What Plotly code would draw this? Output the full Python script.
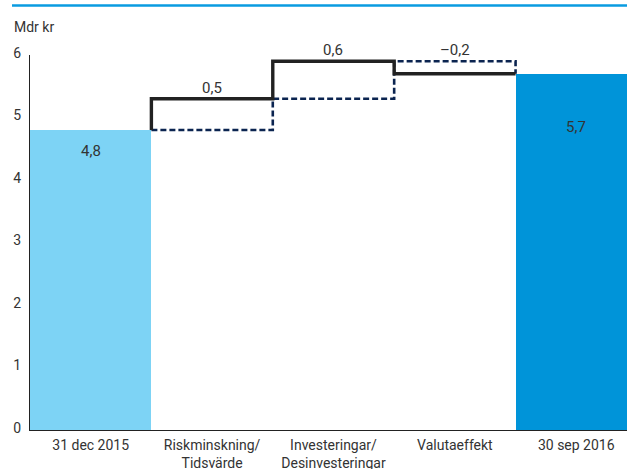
import plotly.graph_objects as go

# ---- data ----
categories = ["31 dec 2015", "Riskminskning/<br>Tidsvärde", "Investeringar/<br>Desinvesteringar",
              "Valutaeffekt", "30 sep 2016"]
start_value = 4.8
changes = [0.5, 0.6, -0.2]
end_value = 5.7
start_label = "4,8"
end_label = "5,7"
change_labels = ["0,5", "0,6", "–0,2"]
unit_label = "Mdr kr"

# ---- styles ----
FONT = "Roboto, sans-serif"
TXT = "#333333"
LIGHT = "#7dd3f5"
DARK = "#0094d9"
NAVY = "#0b2450"

n = len(categories)
xs = list(range(n))

# cumulative levels
levels = [start_value]
for c in changes:
    levels.append(round(levels[-1] + c, 6))

fig = go.Figure()

# total bars
fig.add_trace(go.Bar(x=[xs[0], xs[-1]], y=[start_value, end_value], width=1.0,
                     marker=dict(color=[LIGHT, DARK], line=dict(width=0)),
                     showlegend=False, hoverinfo="skip"))

# dashed path (old levels)
dx, dy = [], []
for i, c in enumerate(changes):
    xi = xs[i + 1]
    if i == 0:
        dx.append(xi - 0.5); dy.append(levels[i])
    dx += [xi + 0.5, xi + 0.5]
    dy += [levels[i], levels[i + 1]]
fig.add_trace(go.Scatter(x=dx, y=dy, mode="lines",
                         line=dict(color=NAVY, width=2.6, dash="6px,3px"),
                         showlegend=False, hoverinfo="skip"))

# solid path (new levels)
sx, sy = [], []
for i, c in enumerate(changes):
    xi = xs[i + 1]
    sx += [xi - 0.5, xi - 0.5, xi + 0.5]
    sy += [levels[i], levels[i + 1], levels[i + 1]]
fig.add_trace(go.Scatter(x=sx, y=sy, mode="lines",
                         line=dict(color="#222222", width=3.4),
                         showlegend=False, hoverinfo="skip"))

annotations = []
for i, lab in enumerate(change_labels):
    annotations.append(dict(x=xs[i + 1], y=max(levels[i], levels[i + 1]), xref="x", yref="y",
                            text=lab, showarrow=False, yanchor="bottom", yshift=0,
                            font=dict(family=FONT, size=15, color=TXT)))
annotations.append(dict(x=xs[0], y=start_value, xref="x", yref="y", text=start_label,
                        showarrow=False, yanchor="middle", yshift=-21,
                        font=dict(family=FONT, size=15, color=TXT)))
annotations.append(dict(x=xs[-1], y=end_value, xref="x", yref="y", text=end_label,
                        showarrow=False, yanchor="middle", yshift=-53,
                        font=dict(family=FONT, size=15, color=TXT)))
annotations.append(dict(x=-18 / 597, y=1 + (55 - 27) / 375, xref="paper", yref="paper",
                        text=unit_label, showarrow=False, xanchor="left", yanchor="middle",
                        font=dict(family=FONT, size=14, color=TXT)))

fig.update_layout(
    width=627, height=469,
    margin=dict(l=30, r=0, t=55, b=39),
    paper_bgcolor="white", plot_bgcolor="white",
    bargap=0,
    font=dict(family=FONT, size=15, color=TXT),
    annotations=annotations,
    shapes=[dict(type="line", xref="paper", yref="paper",
                 x0=-18 / 597, x1=1.0, y0=1 + (55 - 5.5) / 375, y1=1 + (55 - 5.5) / 375,
                 line=dict(color="#0a9be0", width=2.5))],
    xaxis=dict(range=[-0.5, 4.418], tickvals=xs, ticktext=categories,
               showline=True, linecolor="#222222", linewidth=1.3, layer="below traces",
               showgrid=False, zeroline=False, ticks="", ticklabelstandoff=2,
               automargin=False,
               tickfont=dict(family=FONT, size=14, color=TXT)),
    yaxis=dict(range=[0, 6], dtick=1, tick0=0,
               showline=True, linecolor="#222222", linewidth=1.1, layer="below traces",
               showgrid=False, zeroline=False, ticks="", ticklabelshift=-2,
               ticklabelstandoff=5, automargin=False,
               tickfont=dict(family=FONT, size=14, color=TXT)),
)

fig.write_html("out.html")
